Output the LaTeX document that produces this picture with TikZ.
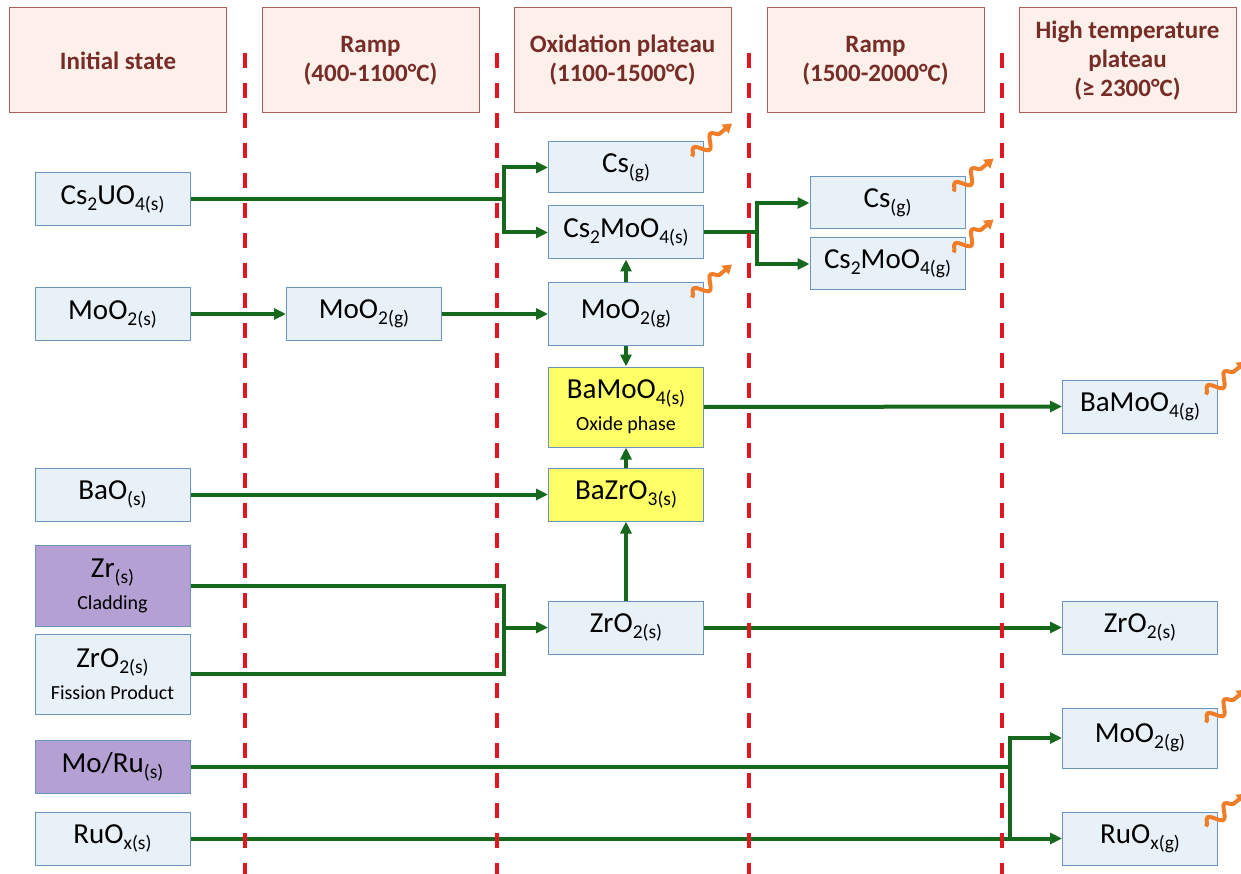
\documentclass[tikz,border=0pt]{standalone}
\usepackage{fontspec}
\setmainfont{Carlito}
\usetikzlibrary{arrows.meta,decorations.pathmorphing,calc}

\definecolor{hdrfill}{RGB}{253,240,234}
\definecolor{hdrdraw}{RGB}{170,95,90}
\definecolor{hdrtext}{RGB}{118,45,40}
\definecolor{boxfill}{RGB}{232,240,248}
\definecolor{boxdraw}{RGB}{105,150,190}
\definecolor{purplefill}{RGB}{180,160,210}
\definecolor{yellowfill}{RGB}{255,255,102}
\definecolor{flowgreen}{RGB}{22,105,28}
\definecolor{phasered}{RGB}{226,22,32}
\definecolor{vapour}{RGB}{240,125,40}

% chemical-state subscript
\newcommand\chsub[1]{\raisebox{-6pt}{\fontsize{19.5}{19.5}\selectfont #1}}
\newcommand\note[1]{{\fontsize{20}{24}\selectfont #1}}

\begin{document}
\begin{tikzpicture}[x=1pt,y=-1pt,
  header/.style={draw=hdrdraw, fill=hdrfill, line width=1pt, minimum width=217pt,
    minimum height=105pt, inner sep=0pt, align=center, text=hdrtext,
    font=\fontsize{25}{29}\selectfont\bfseries},
  species/.style={draw=boxdraw, fill=boxfill, line width=1pt, minimum width=155pt,
    minimum height=53pt, inner sep=0pt, align=center, font=\fontsize{29}{32}\selectfont},
  clad/.style={species, fill=purplefill},
  product/.style={species, fill=yellowfill},
  flow/.style={draw=flowgreen, line width=4pt},
  flowarrow/.style={flow, -{Triangle[length=12pt,width=11pt]}},
  boundary/.style={draw=phasered, line width=4pt, dash pattern=on 15pt off 15pt},
  release/.style={draw=vapour, line width=4pt, decorate,
    decoration={snake, amplitude=6pt, segment length=22pt, post length=8pt},
    -{Triangle[length=9pt,width=11pt]}}
]
\useasboundingbox (0,0) rectangle (1241,874);

% stage headers
\node[header] (h1) at (118,60.5)    {Initial state};
\node[header] (h2) at (370.5,60.5)  {Ramp\\(400-1100°C)};
\node[header] (h3) at (622.5,60.5)  {Oxidation plateau\\(1100-1500°C)};
\node[header] (h4) at (875.5,60.5)  {Ramp\\(1500-2000°C)};
\node[header] (h5) at (1127.5,60.5) {High temperature\\plateau\\(≥ 2300°C)};

% initial inventory
\node[species] (cs2uo4) at (112.5,199)   {Cs\chsub{2}UO\chsub{4(s)}};
\node[species] (moo2s)  at (112.5,314)   {MoO\chsub{2(s)}};
\node[species] (bao)    at (112.5,494.5) {BaO\chsub{(s)}};
\node[clad, minimum height=81pt] (zrs) at (112.5,585.5) {Zr\chsub{(s)}\\\note{Cladding}};
\node[species, minimum height=80pt] (zro2fp) at (112.5,674) {ZrO\chsub{2(s)}\\\note{Fission Product}};
\node[clad]    (moru)   at (112.5,767)   {Mo/Ru\chsub{(s)}};
\node[species] (ruoxs)  at (112.5,838.5) {RuO\chsub{x(s)}};

% first ramp
\node[species] (moo2ga) at (364,314) {MoO\chsub{2(g)}};

% oxidation plateau
\node[species, minimum height=51pt] (csga) at (626,167.5) {Cs\chsub{(g)}};
\node[species] (cs2moo4s) at (626,232.5) {Cs\chsub{2}MoO\chsub{4(s)}};
\node[species, minimum height=62pt] (moo2gb) at (626,314) {MoO\chsub{2(g)}};
\node[product, minimum height=80pt] (bamoo4s) at (626,407) {BaMoO\chsub{4(s)}\\\note{Oxide phase}};
\node[product] (bazro3) at (626,494.5) {BaZrO\chsub{3(s)}};
\node[species] (zro2s)  at (626,627.5) {ZrO\chsub{2(s)}};

% second ramp
\node[species, minimum height=52pt] (csgb)     at (887.5,203) {Cs\chsub{(g)}};
\node[species, minimum height=52pt] (cs2moo4g) at (887.5,264) {Cs\chsub{2}MoO\chsub{4(g)}};

% high temperature plateau
\node[species] (bamoo4g) at (1140,406.5) {BaMoO\chsub{4(g)}};
\node[species] (zro2sb)  at (1140,627.5) {ZrO\chsub{2(s)}};
\node[species, minimum height=60pt] (moo2gc) at (1140,738) {MoO\chsub{2(g)}};
\node[species] (ruoxg)   at (1140,838.5) {RuO\chsub{x(g)}};

% branching points
\coordinate (jcs)  at (504,199);
\coordinate (jcm)  at (757,232.5);
\coordinate (jzr)  at (504,627.5);
\coordinate (jmo)  at (1010,767);

% reaction paths
\draw[flow] (cs2uo4.east) -- (jcs);
\draw[flowarrow] (jcs) |- (csga.west);
\draw[flowarrow] (jcs) |- (cs2moo4s.west);

\draw[flow] (cs2moo4s.east) -- (jcm);
\draw[flowarrow] (jcm) |- (csgb.west);
\draw[flowarrow] (jcm) |- (cs2moo4g.west);

\draw[flowarrow] (moo2s.east) -- (moo2ga.west);
\draw[flowarrow] (moo2ga.east) -- (moo2gb.west);
\draw[flowarrow] (moo2gb.north) -- (cs2moo4s.south);
\draw[flowarrow] (moo2gb.south) -- (bamoo4s.north);
\draw[flowarrow] (bazro3.north) -- (bamoo4s.south);
\draw[flowarrow] (zro2s.north) -- (bazro3.south);
\draw[flowarrow] (bao.east) -- (bazro3.west);
\draw[flowarrow] (bamoo4s.east) -- (bamoo4g.west);

\draw[flow] (zrs.east) -| (jzr) |- (zro2fp.east);
\draw[flowarrow] (jzr) -- (zro2s.west);
\draw[flowarrow] (zro2s.east) -- (zro2sb.west);

\draw[flow] (moru.east) -- (jmo) -- (jmo |- ruoxs.east);
\draw[flowarrow] (jmo) |- (moo2gc.west);
\draw[flowarrow] (ruoxs.east) -- (ruoxg.west);

% stage boundaries
\foreach \x in {245,497,749,1002}
  \draw[boundary] (\x,53) -- (\x,874);

% gas release marks
\foreach \n in {csga,moo2gb,csgb,cs2moo4g,bamoo4g,moo2gc,ruoxg}
  \draw[release] ($(\n.north east)+(-12,15)$) -- ++(40,-33);
\end{tikzpicture}
\end{document}
